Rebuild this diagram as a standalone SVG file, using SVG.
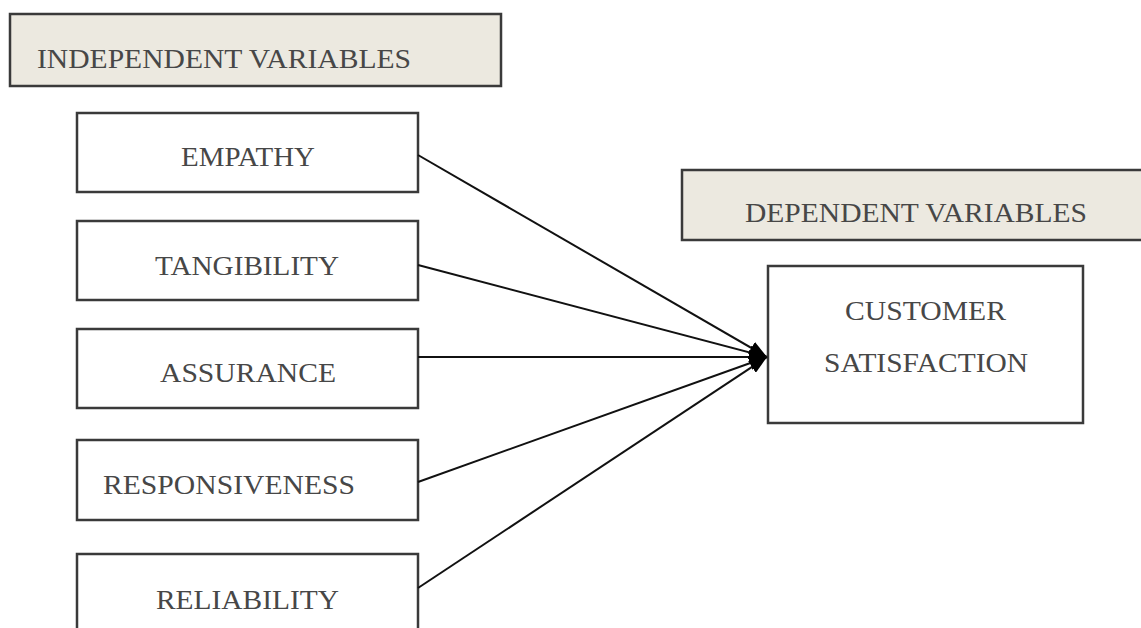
<svg xmlns="http://www.w3.org/2000/svg" width="1141" height="628" viewBox="0 0 1141 628">
<style>
.hdr{fill:#ece9e0;stroke:#3a3a3a;stroke-width:2.5}
.box{fill:#ffffff;stroke:#3a3a3a;stroke-width:2.5}
.t{font-family:"Liberation Serif","Times New Roman",serif;font-size:27px;fill:#474747}
.c{stroke:#111;stroke-width:2;fill:none}
</style>
<defs>
<marker id="ah" viewBox="0 0 18 14" refX="18" refY="7" markerWidth="18" markerHeight="14" markerUnits="userSpaceOnUse" orient="auto">
<path d="M0,0 L18,7 L0,14 Z" fill="#000"/>
</marker>
</defs>
<rect width="1141" height="628" fill="#ffffff"/>
<g id="independent-header">
<rect class="hdr" x="10" y="14" width="491" height="72"/>
<text class="t" x="37" y="68" textLength="374" lengthAdjust="spacingAndGlyphs">INDEPENDENT VARIABLES</text>
</g>
<g id="dependent-header">
<rect class="hdr" x="682" y="170" width="470" height="70"/>
<text class="t" x="745" y="222" textLength="342" lengthAdjust="spacingAndGlyphs">DEPENDENT VARIABLES</text>
</g>
<g id="empathy">
<rect class="box" x="77" y="113" width="341" height="79"/>
<text class="t" x="181" y="166" textLength="134" lengthAdjust="spacingAndGlyphs">EMPATHY</text>
</g>
<g id="tangibility">
<rect class="box" x="77" y="221" width="341" height="79"/>
<text class="t" x="155" y="275" textLength="184" lengthAdjust="spacingAndGlyphs">TANGIBILITY</text>
</g>
<g id="assurance">
<rect class="box" x="77" y="329" width="341" height="79"/>
<text class="t" x="160" y="382" textLength="176" lengthAdjust="spacingAndGlyphs">ASSURANCE</text>
</g>
<g id="responsiveness">
<rect class="box" x="77" y="440" width="341" height="80"/>
<text class="t" x="103" y="494" textLength="252" lengthAdjust="spacingAndGlyphs">RESPONSIVENESS</text>
</g>
<g id="reliability">
<rect class="box" x="77" y="554" width="341" height="90"/>
<text class="t" x="156" y="609" textLength="183" lengthAdjust="spacingAndGlyphs">RELIABILITY</text>
</g>
<g id="customer-satisfaction">
<rect class="box" x="768" y="266" width="315" height="157"/>
<text class="t" x="845" y="320" textLength="161" lengthAdjust="spacingAndGlyphs">CUSTOMER</text>
<text class="t" x="824" y="372" textLength="204" lengthAdjust="spacingAndGlyphs">SATISFACTION</text>
</g>
<g id="connectors">
<line class="c" x1="418" y1="155" x2="767" y2="357" marker-end="url(#ah)"/>
<line class="c" x1="418" y1="265" x2="767" y2="357" marker-end="url(#ah)"/>
<line class="c" x1="418" y1="357" x2="767" y2="357" marker-end="url(#ah)"/>
<line class="c" x1="418" y1="482" x2="767" y2="357" marker-end="url(#ah)"/>
<line class="c" x1="418" y1="588" x2="767" y2="357" marker-end="url(#ah)"/>
</g>
</svg>
